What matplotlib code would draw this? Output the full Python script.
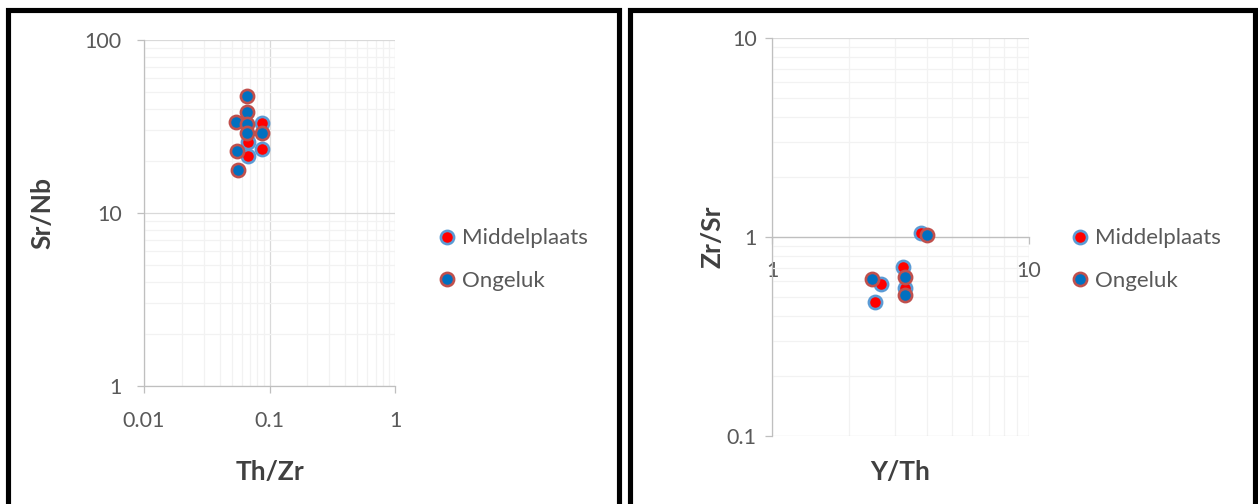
import matplotlib
matplotlib.use("Agg")
import matplotlib.pyplot as plt
from matplotlib.patches import Rectangle
from matplotlib.ticker import LogLocator, FuncFormatter, NullFormatter

plt.rcParams['font.family'] = ['Lato', 'DejaVu Sans']

# Th/Zr vs Sr/Nb
mid_thzr = [0.087, 0.068, 0.087, 0.068]
mid_srnb = [33.3, 25.8, 23.3, 21.3]
ong_thzr = [0.066, 0.066, 0.054, 0.066, 0.066, 0.087, 0.055, 0.056]
ong_srnb = [47.5, 38.2, 33.6, 32.5, 28.9, 29.1, 22.8, 17.7]

# Y/Th vs Zr/Sr
mid_yth = [2.66, 2.51, 3.24, 3.28, 3.79]
mid_zrsr = [0.582, 0.471, 0.705, 0.556, 1.05]
ong_yth = [2.45, 3.30, 3.30, 4.00]
ong_zrsr = [0.613, 0.632, 0.511, 1.023]

series_names = ["Middelplaats", "Ongeluk"]

W, H = 1258, 504
fig = plt.figure(figsize=(W / 100, H / 100), dpi=100)

TXT = "#595959"
AX_LBL = "#404040"
SPINE = "#bfbfbf"
MAJ = "#d9d9d9"
MIN = "#f2f2f2"
MID_FACE, MID_EDGE = "#ff0000", "#5b9bd5"
ONG_FACE, ONG_EDGE = "#0070c0", "#c0504d"
MS = 9.5
TICK_FS = 15.5
LEG_FS = 16
LBL_FS = 19


def fmt(v, _):
    return f"{v:g}"


def style_axes(ax, xlim, ylim, xpad, ypad):
    ax.set_xscale("log")
    ax.set_yscale("log")
    ax.set_xlim(*xlim)
    ax.set_ylim(*ylim)
    for s in ("top", "right"):
        ax.spines[s].set_visible(False)
    for s in ("left", "bottom"):
        ax.spines[s].set_color(SPINE)
        ax.spines[s].set_linewidth(0.9)
    ax.xaxis.set_major_locator(LogLocator(base=10))
    ax.yaxis.set_major_locator(LogLocator(base=10))
    ax.xaxis.set_minor_locator(LogLocator(base=10, subs=range(2, 10)))
    ax.yaxis.set_minor_locator(LogLocator(base=10, subs=range(2, 10)))
    ax.xaxis.set_major_formatter(FuncFormatter(fmt))
    ax.yaxis.set_major_formatter(FuncFormatter(fmt))
    ax.xaxis.set_minor_formatter(NullFormatter())
    ax.yaxis.set_minor_formatter(NullFormatter())
    ax.grid(True, which="major", color=MAJ, linewidth=0.9, zorder=0)
    ax.grid(True, which="minor", color=MIN, linewidth=0.9, zorder=0)
    ax.set_axisbelow(True)
    ax.tick_params(which="major", length=5, width=0.9, color=SPINE,
                   labelsize=TICK_FS, labelcolor=TXT)
    ax.tick_params(axis="x", which="major", pad=xpad)
    ax.tick_params(axis="y", which="major", pad=ypad)
    ax.tick_params(which="minor", length=0)


def draw_points(ax, mx, my, ox, oy):
    ax.plot(mx, my, linestyle="none", marker="o", markersize=MS,
            markerfacecolor=MID_FACE, markeredgecolor=MID_EDGE,
            markeredgewidth=1.9, label=series_names[0], zorder=3, clip_on=False)
    ax.plot(ox, oy, linestyle="none", marker="o", markersize=MS,
            markerfacecolor=ONG_FACE, markeredgecolor=ONG_EDGE,
            markeredgewidth=1.9, label=series_names[1], zorder=4, clip_on=False)


def add_legend(ax, x, y):
    leg = ax.legend(loc="center left", bbox_to_anchor=(x / W, 1 - y / H),
                    bbox_transform=fig.transFigure, frameon=False,
                    fontsize=LEG_FS, labelspacing=1.0, handlelength=0.55,
                    handletextpad=0.4, borderaxespad=0, borderpad=0)
    for t in leg.get_texts():
        t.set_color(TXT)


def set_labels(ax, xl, yl, xpos, ypos):
    ax.set_xlabel(xl, fontsize=LBL_FS, fontweight="bold", color=AX_LBL, va="center")
    ax.set_ylabel(yl, fontsize=LBL_FS, fontweight="bold", color=AX_LBL, va="center")
    ax.xaxis.set_label_coords(0.5, xpos)
    ax.yaxis.set_label_coords(ypos, 0.5)


# Left panel
ax1 = fig.add_axes([144 / W, 1 - 386 / H, (395 - 144) / W, (386 - 40) / H])
style_axes(ax1, (0.01, 1), (1, 100), xpad=13, ypad=11)
draw_points(ax1, mid_thzr, mid_srnb, ong_thzr, ong_srnb)
set_labels(ax1, "Th/Zr", "Sr/Nb", (386 - 472) / 346, (42 - 144) / 251)
add_legend(ax1, 441, 259.5)

# Right panel
ax2 = fig.add_axes([772 / W, 1 - 436 / H, (1029 - 772) / W, (436 - 38) / H])
style_axes(ax2, (1, 10), (0.1, 10), xpad=12, ypad=6)
ax2.spines["bottom"].set_position(("data", 1))
draw_points(ax2, mid_yth, mid_zrsr, ong_yth, ong_zrsr)
set_labels(ax2, "Y/Th", "Zr/Sr", (436 - 472) / 398, (712 - 772) / 257)
add_legend(ax2, 1074, 259.5)

# Panel frames
lw = 3.7
fig.patches.append(Rectangle((7.8 / W, -0.1), (618.5 - 7.8) / W, 1.1 - 9.7 / H,
                             transform=fig.transFigure, fill=False,
                             edgecolor="black", linewidth=lw))
fig.patches.append(Rectangle((630 / W, -0.1), (1255 - 630) / W, 1.1 - 9.7 / H,
                             transform=fig.transFigure, fill=False,
                             edgecolor="black", linewidth=lw))

fig.savefig("out.png", dpi=100, facecolor="white")
